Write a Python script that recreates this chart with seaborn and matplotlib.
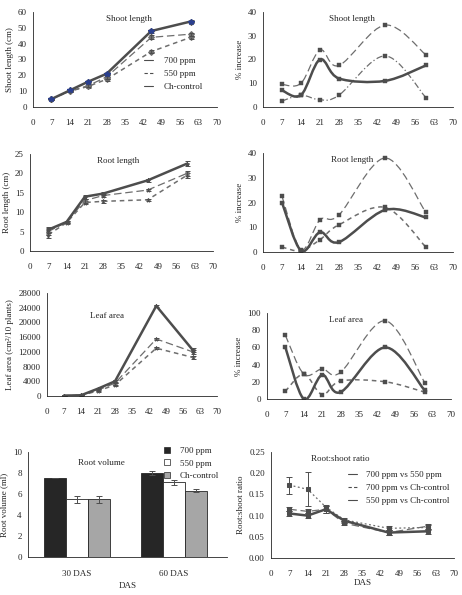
import numpy as np
import pandas as pd
import matplotlib
matplotlib.use("Agg")
import matplotlib.pyplot as plt
import seaborn as sns
from matplotlib.path import Path
from matplotlib.patches import PathPatch
from matplotlib.lines import Line2D

# ---- data ----
das = [7, 14, 21, 28, 45, 60]

shoot_700 = [5, 10.5, 16, 21, 48, 54]
shoot_550 = [5, 10, 13.5, 19, 44, 46]
shoot_ctl = [5, 10, 13, 17.5, 35, 44]
shoot_err = [0.5, 0.5, 0.8, 1.0, 1.2, 1.0]

root_700 = [5.5, 7.5, 14, 14.8, 18.2, 22.5]
root_550 = [5, 7.5, 13, 14.3, 15.7, 20]
root_ctl = [4.2, 7.3, 12.5, 12.8, 13.2, 19.5]
root_err = [0.8, 0.3, 0.5, 0.4, 0.3, 0.6]

leaf_700 = [100, 200, 2000, 4000, 24500, 12500]
leaf_550 = [100, 200, 1600, 3500, 15500, 12000]
leaf_ctl = [100, 150, 1400, 3000, 13000, 10500]
leaf_err = [50, 50, 200, 400, 300, 500]

inc_shoot_a = [7, 5, 20, 12, 11, 17.5]
inc_shoot_b = [9.5, 10, 24, 17.5, 34.5, 22]
inc_shoot_c = [2.5, 5, 3, 5, 21.5, 4]

inc_root_a = [20, 0.5, 8, 4, 17, 14]
inc_root_b = [22.5, 1, 13, 15, 38, 16]
inc_root_c = [2, 0.5, 5, 11, 18, 2]

inc_leaf_a = [60, 0, 28, 8, 60, 10]
inc_leaf_b = [74, 29, 35, 31, 91, 19]
inc_leaf_c = [9, 29, 5, 21, 20, 8]

vol_groups = ["30 DAS", "60 DAS"]
vol_treat = ["700 ppm", "550 ppm", "Ch-control"]
vol_values = [[7.5, 5.5, 5.5], [8.0, 7.1, 6.3]]
vol_err = [[0.0, 0.35, 0.35], [0.2, 0.2, 0.15]]

ratio_a = [0.105, 0.100, 0.115, 0.088, 0.060, 0.063]
ratio_b = [0.115, 0.110, 0.115, 0.082, 0.060, 0.075]
ratio_c = [0.172, 0.162, 0.120, 0.090, 0.070, 0.072]
ratio_err_a = [0.005, 0.005, 0.008, 0.005, 0.006, 0.006]
ratio_err_c = [0.02, 0.04, 0.006, 0.004, 0.005, 0.005]

sns.set_style("white")
plt.rcParams["font.family"] = ["Liberation Serif", "DejaVu Serif"]
plt.rcParams["font.size"] = 6
plt.rcParams["axes.linewidth"] = 0.6

DARK = "#4d4d4d"
MID = "#6e6e6e"
SOLID = dict(color=DARK, lw=1.8)
LDASH = dict(color=MID, lw=0.9, ls=(0, (6, 3)))
SDASH = dict(color=MID, lw=1.1, ls=(0, (3, 2.5)))

W, H = 462, 595
fig = plt.figure(figsize=(W / 100, H / 100), dpi=100)


def add_ax(x0, x1, y0, y1):
    return fig.add_axes([x0 / W, 1 - y1 / H, (x1 - x0) / W, (y1 - y0) / H])


def style_das(ax, ymax, ystep):
    ax.set_xlim(0, 70)
    ax.set_xticks(range(0, 71, 7))
    ax.set_ylim(0, ymax)
    ax.set_yticks(np.arange(0, ymax + ystep / 2, ystep))
    sns.despine(ax=ax)
    ax.tick_params(axis="both", length=2.5, width=0.6, labelsize=6.5, pad=2)
    ax.tick_params(axis="x", pad=6)


def smooth_path(x, y):
    pts = np.column_stack([x, y]).astype(float)
    n = len(pts)
    verts = [pts[0]]
    codes = [Path.MOVETO]
    for i in range(n - 1):
        p0 = pts[i - 1] if i > 0 else pts[i]
        p1, p2 = pts[i], pts[i + 1]
        p3 = pts[i + 2] if i + 2 < n else pts[i + 1]
        verts += [p1 + (p2 - p0) / 6, p2 - (p3 - p1) / 6, p2]
        codes += [Path.CURVE4] * 3
    return Path(verts, codes)


def growth_panel(ax, series, errs, marker):
    for vals, st in series:
        df = pd.DataFrame({"das": das, "v": vals})
        sns.lineplot(data=df, x="das", y="v", ax=ax, marker=marker, ms=3,
                     mec=st["color"], mfc=st["color"], **st)
        ax.errorbar(das, vals, yerr=errs, fmt="none", ecolor=DARK,
                    elinewidth=0.7, capsize=1.8, capthick=0.7)
    ax.set_xlabel("")


def increase_panel(ax, series):
    for vals, st in series:
        ax.add_patch(PathPatch(smooth_path(das, vals), fill=False,
                               edgecolor=st["color"], lw=st["lw"],
                               ls=st.get("ls", "-")))
        sns.scatterplot(x=das, y=vals, ax=ax, marker="s", s=9,
                        color=DARK, edgecolor=DARK, linewidth=0.3)
    ax.set_ylabel("% increase", fontsize=6.5, labelpad=3)


# ---- row 1 ----
ax = add_ax(33, 217, 12, 107)
growth_panel(ax, [(shoot_ctl, SDASH), (shoot_550, LDASH), (shoot_700, SOLID)],
             shoot_err, "D")
ax.plot(das, shoot_700, ls="none", marker="*", ms=4, color="#2a3f8f")
style_das(ax, 60, 10)
ax.set_ylabel("Shoot length (cm)", fontsize=6.5, labelpad=3)
ax.text(0.52, 0.97, "Shoot length", transform=ax.transAxes, ha="center",
        va="top", fontsize=6.5)
handles = [Line2D([], [], color=DARK, lw=0.8),
           Line2D([], [], color=DARK, lw=0.8, ls=(0, (3, 2))),
           Line2D([], [], color=DARK, lw=0.8)]
ax.legend(handles, ["700 ppm", "550 ppm", "Ch-control"], loc="lower right",
          bbox_to_anchor=(0.97, 0.08), frameon=False, fontsize=6.5,
          handlelength=1.0, handletextpad=1.2, labelspacing=0.55)

ax = add_ax(263, 453, 12, 107)
increase_panel(ax, [(inc_shoot_b, LDASH),
                    (inc_shoot_c, dict(color=MID, lw=0.9, ls=(0, (5, 2, 1, 2)))),
                    (inc_shoot_a, SOLID)])
style_das(ax, 40, 10)
ax.text(0.47, 0.97, "Shoot length", transform=ax.transAxes, ha="center",
        va="top", fontsize=6.5)

# ---- row 2 ----
ax = add_ax(30, 213, 154, 251)
growth_panel(ax, [(root_ctl, SDASH), (root_550, LDASH), (root_700, SOLID)],
             root_err, "*")
style_das(ax, 25, 5)
ax.set_ylabel("Root length (cm)", fontsize=6.5, labelpad=3)
ax.text(0.48, 0.97, "Root length", transform=ax.transAxes, ha="center",
        va="top", fontsize=6.5)

ax = add_ax(263, 453, 153, 252)
increase_panel(ax, [(inc_root_b, LDASH), (inc_root_c, SDASH), (inc_root_a, SOLID)])
style_das(ax, 40, 10)
ax.text(0.47, 0.97, "Root length", transform=ax.transAxes, ha="center",
        va="top", fontsize=6.5)

# ---- row 3 ----
ax = add_ax(47, 217, 293, 396)
growth_panel(ax, [(leaf_ctl, SDASH), (leaf_550, LDASH), (leaf_700, SOLID)],
             leaf_err, "*")
style_das(ax, 28000, 4000)
ax.set_ylabel("Leaf area (cm²/10 plants)", fontsize=6.5, labelpad=3)
ax.text(0.35, 0.82, "Leaf area", transform=ax.transAxes, ha="center",
        va="top", fontsize=6.5)

ax = add_ax(267, 451, 313, 399)
increase_panel(ax, [(inc_leaf_b, LDASH), (inc_leaf_c, SDASH), (inc_leaf_a, SOLID)])
style_das(ax, 100, 20)
ax.text(0.43, 0.97, "Leaf area", transform=ax.transAxes, ha="center",
        va="top", fontsize=6.5)

# ---- row 4: root volume bars ----
ax = add_ax(28, 227, 452, 557)
vol_df = pd.DataFrame([(g, t, vol_values[i][j])
                       for i, g in enumerate(vol_groups)
                       for j, t in enumerate(vol_treat)],
                      columns=["group", "treat", "vol"])
bar_cols = ["#262626", "#ffffff", "#a6a6a6"]
sns.barplot(data=vol_df, x="group", y="vol", hue="treat", palette=bar_cols,
            width=0.68, edgecolor="#262626", linewidth=0.6, ax=ax,
            errorbar=None, legend=False)
bw = 0.68 / 3
for i in range(2):
    for j in range(3):
        xc = i + (j - 1) * bw
        ax.errorbar(xc, vol_values[i][j], yerr=vol_err[i][j], fmt="none",
                    ecolor=DARK, elinewidth=0.7, capsize=2.5, capthick=0.7)
ax.set_xlim(-0.5, 1.55)
ax.set_ylim(0, 10)
ax.set_yticks(range(0, 11, 2))
sns.despine(ax=ax)
ax.tick_params(axis="y", length=2.5, width=0.6, labelsize=6.5, pad=2)
ax.tick_params(axis="x", length=0, labelsize=6.5, pad=9)
ax.set_xticks([0.5], minor=True)
ax.tick_params(axis="x", which="minor", length=2.5, width=0.6)
ax.set_xlabel("DAS", fontsize=6.5, labelpad=3)
ax.set_ylabel("Root volume (ml)", fontsize=6.5, labelpad=3)
ax.text(0.37, 0.93, "Root volume", transform=ax.transAxes, ha="center",
        va="top", fontsize=6.5)
vh = [Line2D([], [], ls="none", marker="s", ms=4, mfc=c, mec="#262626",
             mew=0.5) for c in bar_cols]
ax.legend(vh, vol_treat, loc="upper right", bbox_to_anchor=(1.0, 1.13),
          frameon=False, fontsize=6.5, handlelength=1.0, handletextpad=0.9,
          labelspacing=0.5)

# ---- row 4: root:shoot ratio ----
ax = add_ax(271, 454, 452, 558)
ratio_series = [(ratio_c, dict(color=MID, lw=0.9, ls=(0, (1.5, 2))), ratio_err_c),
                (ratio_b, LDASH, ratio_err_a),
                (ratio_a, SOLID, ratio_err_a)]
for vals, st, err in ratio_series:
    df = pd.DataFrame({"das": das, "v": vals})
    sns.lineplot(data=df, x="das", y="v", ax=ax, marker="s", ms=2.5,
                 mec=DARK, mfc=DARK, **st)
    ax.errorbar(das, vals, yerr=err, fmt="none", ecolor=DARK,
                elinewidth=0.7, capsize=2.2, capthick=0.7)
style_das(ax, 0.25, 0.05)
ax.set_yticks(np.arange(0, 0.26, 0.05))
ax.set_yticklabels([f"{v:.2f}" for v in np.arange(0, 0.26, 0.05)])
ax.set_xlabel("DAS", fontsize=6.5, labelpad=1)
ax.set_ylabel("Root:shoot ratio", fontsize=6.5, labelpad=3)
ax.text(0.38, 0.97, "Root:shoot ratio", transform=ax.transAxes, ha="center",
        va="top", fontsize=6.5)
rh = [Line2D([], [], color=DARK, lw=0.8),
      Line2D([], [], color=DARK, lw=0.8, ls=(0, (3, 2))),
      Line2D([], [], color=DARK, lw=0.8)]
ax.legend(rh, ["700 ppm vs 550 ppm", "700 ppm vs Ch-control",
               "550 ppm vs Ch-control"], loc="upper right",
          bbox_to_anchor=(1.02, 0.9), frameon=False, fontsize=6.5,
          handlelength=1.0, handletextpad=1.0, labelspacing=0.5)

fig.savefig("out.png", dpi=100)
